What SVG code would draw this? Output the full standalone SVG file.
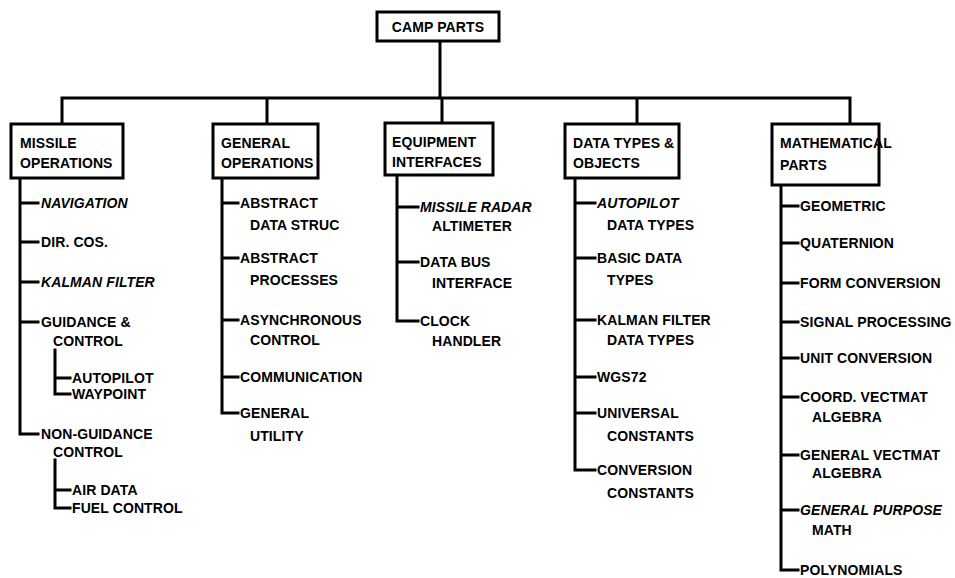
<svg xmlns="http://www.w3.org/2000/svg" width="955" height="578" viewBox="0 0 955 578">
<style>
.bg{fill:#fff}
.box{fill:#fff;stroke:#000;stroke-width:3}
.ln{fill:none;stroke:#000;stroke-width:3;stroke-linecap:square}
text{font-family:"Liberation Sans",Arial,sans-serif;font-weight:bold;font-size:14px;letter-spacing:0.1px;fill:#000}
.it{font-style:italic}
</style>
<rect class="bg" x="0" y="0" width="955" height="578"/>
<g id="connectors">
<path class="ln" d="M440 41V98 M62 98H850 M62 98V124 M267 98V124 M442 98V123 M637 98V124 M850 98V124"/>
<path class="ln" d="M20 178V434 M20 203H38 M20 242H38 M20 282H38 M20 322H38 M20 434H38 M55 350V394 M55 378H70 M55 394H70 M55 460V508 M55 490H70 M55 508H70"/>
<path class="ln" d="M222 178V413 M222 203H238 M222 258H238 M222 320H238 M222 377H238 M222 413H238"/>
<path class="ln" d="M397 175V321 M397 207H418 M397 262H418 M397 321H418"/>
<path class="ln" d="M575 178V470 M575 203H595 M575 258H595 M575 320H595 M575 377H595 M575 413H595 M575 470H595"/>
<path class="ln" d="M781 185V570 M781 206H798 M781 243H798 M781 283H798 M781 322H798 M781 358H798 M781 397H798 M781 455H798 M781 510H798 M781 570H798"/>
</g>
<g id="camp-parts"><rect class="box" x="377" y="12" width="122" height="29"/><text x="438" y="32" text-anchor="middle" font-size="12.5">CAMP PARTS</text></g>
<g id="missile-operations"><rect class="box" x="11" y="124" width="112" height="54"/><text x="20" y="148" font-size="13">MISSILE</text><text x="20" y="168" font-size="13">OPERATIONS</text></g>
<g id="general-operations"><rect class="box" x="213" y="124" width="105" height="54"/><text x="221" y="148" font-size="13">GENERAL</text><text x="221" y="168" font-size="13">OPERATIONS</text></g>
<g id="equipment-interfaces"><rect class="box" x="385" y="123" width="108" height="52"/><text x="392" y="147" font-size="13">EQUIPMENT</text><text x="392" y="167" font-size="13">INTERFACES</text></g>
<g id="data-types"><rect class="box" x="565" y="124" width="114" height="54"/><text x="573" y="148" font-size="13">DATA TYPES &amp;</text><text x="573" y="168" font-size="13">OBJECTS</text></g>
<g id="mathematical-parts"><rect class="box" x="772" y="124" width="107" height="61"/><text x="780" y="148" font-size="13">MATHEMATICAL</text><text x="780" y="170" font-size="13">PARTS</text></g>
<g id="missile-children">
<text x="41" y="208" class="it">NAVIGATION</text>
<text x="41" y="247">DIR. COS.</text>
<text x="41" y="287" class="it">KALMAN FILTER</text>
<text x="41" y="327">GUIDANCE &amp;</text>
<text x="53" y="346">CONTROL</text>
<text x="72" y="383">AUTOPILOT</text>
<text x="72" y="399">WAYPOINT</text>
<text x="41" y="439">NON-GUIDANCE</text>
<text x="53" y="457">CONTROL</text>
<text x="72" y="495">AIR DATA</text>
<text x="72" y="513">FUEL CONTROL</text>
</g>
<g id="general-children">
<text x="240" y="208">ABSTRACT</text><text x="250" y="230">DATA STRUC</text>
<text x="240" y="263">ABSTRACT</text><text x="250" y="285">PROCESSES</text>
<text x="240" y="325">ASYNCHRONOUS</text><text x="250" y="345">CONTROL</text>
<text x="240" y="382">COMMUNICATION</text>
<text x="240" y="418">GENERAL</text><text x="250" y="441">UTILITY</text>
</g>
<g id="equipment-children">
<text x="420" y="212" class="it">MISSILE RADAR</text><text x="432" y="231">ALTIMETER</text>
<text x="420" y="267">DATA BUS</text><text x="432" y="288">INTERFACE</text>
<text x="420" y="326">CLOCK</text><text x="432" y="346">HANDLER</text>
</g>
<g id="datatype-children">
<text x="597" y="208" class="it">AUTOPILOT</text><text x="607" y="230">DATA TYPES</text>
<text x="597" y="263">BASIC DATA</text><text x="607" y="285">TYPES</text>
<text x="597" y="325">KALMAN FILTER</text><text x="607" y="345">DATA TYPES</text>
<text x="597" y="382">WGS72</text>
<text x="597" y="418">UNIVERSAL</text><text x="607" y="441">CONSTANTS</text>
<text x="597" y="475">CONVERSION</text><text x="607" y="498">CONSTANTS</text>
</g>
<g id="math-children">
<text x="800" y="211">GEOMETRIC</text>
<text x="800" y="248">QUATERNION</text>
<text x="800" y="288">FORM CONVERSION</text>
<text x="800" y="327">SIGNAL PROCESSING</text>
<text x="800" y="363">UNIT CONVERSION</text>
<text x="800" y="402">COORD. VECTMAT</text><text x="812" y="422">ALGEBRA</text>
<text x="800" y="460">GENERAL VECTMAT</text><text x="812" y="478">ALGEBRA</text>
<text x="800" y="515" class="it">GENERAL PURPOSE</text><text x="812" y="535">MATH</text>
<text x="800" y="575">POLYNOMIALS</text>
</g>
</svg>
